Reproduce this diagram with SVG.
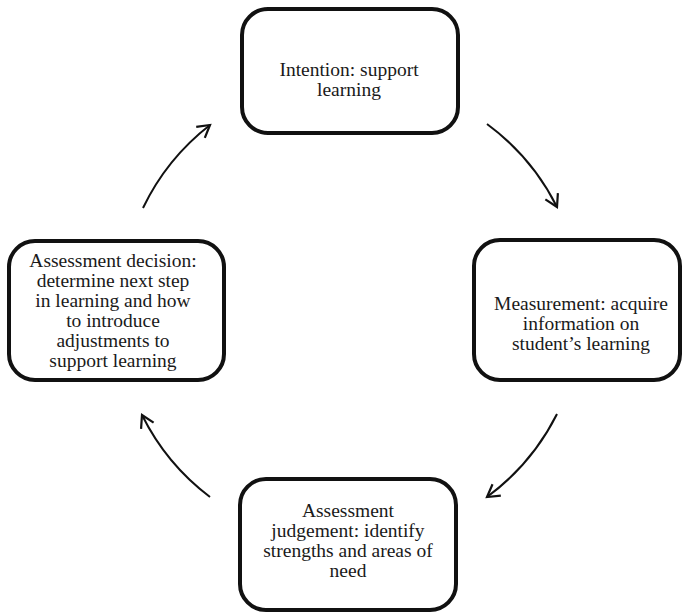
<svg xmlns="http://www.w3.org/2000/svg" width="683" height="614" viewBox="0 0 683 614">
  <style>
    .box { fill: #ffffff; stroke: #111111; stroke-width: 4; }
    .label { font-family: "Liberation Serif", "Times New Roman", serif; font-size: 19.5px; fill: #1a1a1a; text-anchor: middle; }
    .arc { fill: none; stroke: #111111; stroke-width: 2; marker-end: url(#head); }
  </style>
  <defs>
    <marker id="head" markerUnits="userSpaceOnUse" markerWidth="20" markerHeight="20" refX="0" refY="0" viewBox="-14 -10 16 20" orient="auto">
      <path d="M -12 -7 L 0 0 L -12 7" fill="none" stroke="#111111" stroke-width="2.2" stroke-linejoin="miter"/>
    </marker>
  </defs>

  <rect width="683" height="614" fill="#ffffff"/>

  <!-- cycle connectors: arcs of one circle around the centre -->
  <g id="connectors">
    <path class="arc" d="M 143 208 A 232 232 0 0 1 210 125"/>
    <path class="arc" d="M 487 124 A 232 232 0 0 1 557 207"/>
    <path class="arc" d="M 557 414 A 232 232 0 0 1 487 497"/>
    <path class="arc" d="M 210 497 A 232 232 0 0 1 142 415"/>
  </g>

  <g id="intention">
    <rect class="box" x="242" y="9" width="216" height="124" rx="26" ry="26"/>
    <text class="label" x="349" y="76">Intention: support</text>
    <text class="label" x="349" y="96">learning</text>
  </g>

  <g id="measurement">
    <rect class="box" x="474" y="240" width="206" height="140" rx="26" ry="26"/>
    <text class="label" x="581" y="310">Measurement: acquire</text>
    <text class="label" x="581" y="330">information on</text>
    <text class="label" x="581" y="350">student’s learning</text>
  </g>

  <g id="judgement">
    <rect class="box" x="240" y="479" width="216" height="131" rx="26" ry="26"/>
    <text class="label" x="348" y="517">Assessment</text>
    <text class="label" x="348" y="537">judgement: identify</text>
    <text class="label" x="348" y="557">strengths and areas of</text>
    <text class="label" x="348" y="577">need</text>
  </g>

  <g id="decision">
    <rect class="box" x="9" y="241" width="215" height="139" rx="26" ry="26"/>
    <text class="label" x="113" y="267">Assessment decision:</text>
    <text class="label" x="113" y="287">determine next step</text>
    <text class="label" x="113" y="307">in learning and how</text>
    <text class="label" x="113" y="327">to introduce</text>
    <text class="label" x="113" y="347">adjustments to</text>
    <text class="label" x="113" y="367">support learning</text>
  </g>
</svg>
